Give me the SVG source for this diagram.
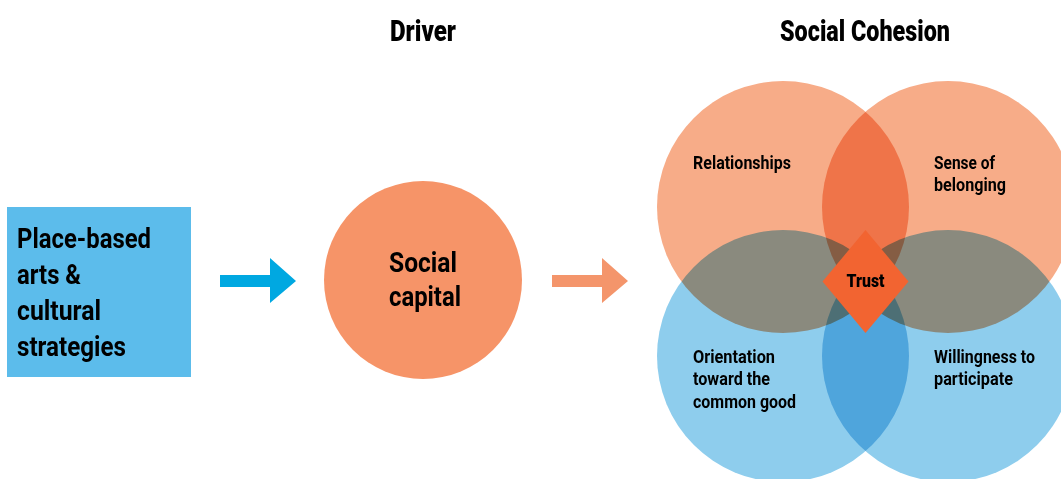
<svg xmlns="http://www.w3.org/2000/svg" width="1061" height="479" viewBox="0 0 1061 479">
<style>
.hdr{font-family:Roboto,"Liberation Sans",sans-serif;font-weight:900;font-size:30px;fill:#000;text-anchor:middle}
.box{font-family:Roboto,"Liberation Sans",sans-serif;font-weight:700;font-size:27px;fill:#000}
.cap{font-family:Roboto,"Liberation Sans",sans-serif;font-weight:700;font-size:27px;fill:#000;text-anchor:middle}
.lbl{font-family:Roboto,"Liberation Sans",sans-serif;font-weight:700;font-size:18px;fill:#000}
.trust{font-family:Roboto,"Liberation Sans",sans-serif;font-weight:900;font-size:18px;fill:#000;text-anchor:middle}
.top{fill:#F7AC88}
.bot{fill:#8ECDED}
.mul{mix-blend-mode:multiply}
</style>
<rect width="1061" height="479" fill="#fff"/>
<text class="hdr" x="423" y="41" textLength="66" lengthAdjust="spacingAndGlyphs">Driver</text>
<text class="hdr" x="865" y="41" textLength="170" lengthAdjust="spacingAndGlyphs">Social Cohesion</text>

<g id="strategies">
<rect x="7" y="207" width="184" height="170" fill="#5CBCEB"/>
<text class="box" x="17" y="248" textLength="134" lengthAdjust="spacingAndGlyphs">Place-based</text>
<text class="box" x="17" y="284" textLength="64" lengthAdjust="spacingAndGlyphs">arts &amp;</text>
<text class="box" x="17" y="320" textLength="84" lengthAdjust="spacingAndGlyphs">cultural</text>
<text class="box" x="17" y="356" textLength="109" lengthAdjust="spacingAndGlyphs">strategies</text>
</g>

<g id="social-capital">
<circle cx="423" cy="280" r="99" fill="#F69468"/>
<text class="cap" x="423" y="272" textLength="68" lengthAdjust="spacingAndGlyphs">Social</text>
<text class="cap" x="425" y="306" textLength="72" lengthAdjust="spacingAndGlyphs">capital</text>
</g>

<g id="connectors">
<polygon points="220,275 270,275 270,258 296,281 270,303 270,287 220,287" fill="#00A8E1"/>
<polygon points="552,275 602,275 602,258 628,281 602,303 602,287 552,287" fill="#F4956B"/>
</g>

<g id="venn" style="isolation:isolate">
<g id="relationships" class="mul">
<circle class="top" cx="783" cy="207" r="126"/>
<text class="lbl" x="693" y="169" textLength="98" lengthAdjust="spacingAndGlyphs">Relationships</text>
</g>
<g id="belonging" class="mul">
<circle class="top" cx="948" cy="207" r="126"/>
<text class="lbl" x="934" y="169" textLength="61" lengthAdjust="spacingAndGlyphs">Sense of</text>
<text class="lbl" x="934" y="191" textLength="72" lengthAdjust="spacingAndGlyphs">belonging</text>
</g>
<g id="orientation" class="mul">
<circle class="bot" cx="783" cy="356" r="126"/>
<text class="lbl" x="693" y="363" textLength="82" lengthAdjust="spacingAndGlyphs">Orientation</text>
<text class="lbl" x="693" y="385" textLength="77" lengthAdjust="spacingAndGlyphs">toward the</text>
<text class="lbl" x="693" y="408" textLength="103" lengthAdjust="spacingAndGlyphs">common good</text>
</g>
<g id="willingness" class="mul">
<circle class="bot" cx="948" cy="356" r="126"/>
<text class="lbl" x="934" y="363" textLength="101" lengthAdjust="spacingAndGlyphs">Willingness to</text>
<text class="lbl" x="934" y="385" textLength="79" lengthAdjust="spacingAndGlyphs">participate</text>
</g>
</g>

<g id="trust">
<polygon points="865.5,230 908.5,281.5 865.5,333 822.5,281.5" fill="#F26431"/>
<text class="trust" x="865.5" y="287" textLength="38" lengthAdjust="spacingAndGlyphs">Trust</text>
</g>
</svg>
